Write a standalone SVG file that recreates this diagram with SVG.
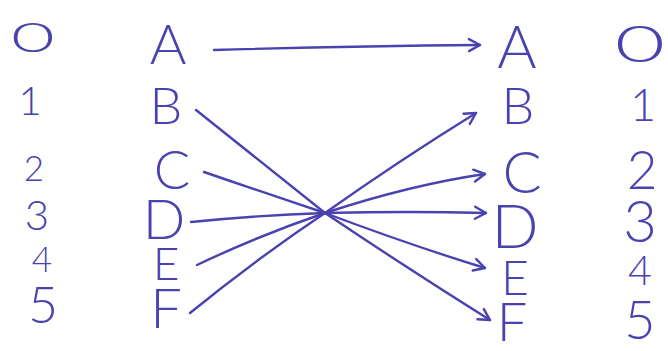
<svg xmlns="http://www.w3.org/2000/svg" width="668" height="351" viewBox="0 0 668 351">
<style>
text{font-family:Lato,Inter,"Liberation Sans",sans-serif;font-weight:300;fill:#4a42b0;text-anchor:middle}
.c{fill:none;stroke:#4a42b0;stroke-width:2.4;stroke-linecap:round;stroke-linejoin:round}
</style>
<defs>
<marker id="ah" viewBox="-14 -8 16 16" markerWidth="16" markerHeight="16" markerUnits="userSpaceOnUse" orient="auto" refX="0" refY="0">
<path d="M-11,-6 L0,0 L-11,6" fill="none" stroke="#4a42b0" stroke-width="2.4" stroke-linecap="round" stroke-linejoin="round"/>
</marker>
</defs>
<rect width="668" height="351" fill="#fff"/>
<g id="left-numbers">
<text x="33" y="56" font-size="54" transform="translate(33 37) scale(1.4 0.78) translate(-33 -37)">0</text>
<text x="30" y="115" font-size="40">1</text>
<text x="34" y="181" font-size="35">2</text>
<text x="37" y="230" font-size="42">3</text>
<text x="42" y="272" font-size="35">4</text>
<text x="43" y="323" font-size="52">5</text>
</g>
<g id="left-A"><text x="168" y="64" font-size="56">A</text></g>
<g id="left-B"><text x="166" y="124" font-size="52">B</text></g>
<g id="left-C"><text x="172" y="189" font-size="54">C</text></g>
<g id="left-D"><text x="164" y="239" font-size="56">D</text></g>
<g id="left-E"><text x="166" y="280" font-size="46">E</text></g>
<g id="left-F"><text x="166" y="328" font-size="56">F</text></g>
<g id="right-A"><text x="517" y="68" font-size="60">A</text></g>
<g id="right-B"><text x="518" y="124" font-size="52">B</text></g>
<g id="right-C"><text x="522" y="193" font-size="58">C</text></g>
<g id="right-D"><text x="515" y="248" font-size="62">D</text></g>
<g id="right-E"><text x="515" y="295" font-size="48">E</text></g>
<g id="right-F"><text x="512" y="341" font-size="54">F</text></g>
<g id="right-numbers">
<text x="640" y="66" font-size="62" transform="translate(640 43) scale(1.4 0.82) translate(-640 -43)">0</text>
<text x="643" y="121" font-size="45">1</text>
<text x="642" y="189" font-size="53">2</text>
<text x="640" y="242" font-size="58">3</text>
<text x="640" y="285" font-size="41">4</text>
<text x="640" y="339" font-size="54">5</text>
</g>
<g id="connectors">
<path class="c" d="M214,50 Q350,46 480,45" marker-end="url(#ah)"/>
<path class="c" d="M196,110 Q265,165 325,213 Q410,270 490,320" marker-end="url(#ah)"/>
<path class="c" d="M204,172 Q265,193 325,213 Q410,245 485,268" marker-end="url(#ah)"/>
<path class="c" d="M191,222 Q260,215 325,213 Q410,211 486,213" marker-end="url(#ah)"/>
<path class="c" d="M197,265 Q260,235 325,213 Q410,185 485,174" marker-end="url(#ah)"/>
<path class="c" d="M190,313 Q255,260 325,213 Q400,160 476,113" marker-end="url(#ah)"/>
</g>
</svg>
